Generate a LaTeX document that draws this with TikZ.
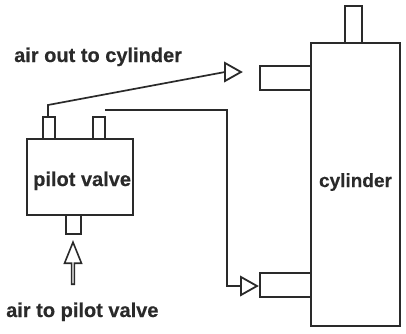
\documentclass[tikz,border=0pt]{standalone}
\usepackage{fontspec}
\setmainfont{Liberation Sans}[BoldFeatures={FakeBold=0.4}]
\usetikzlibrary{shapes.geometric,shapes.arrows}
\definecolor{ink}{HTML}{2A2A2A}
\tikzset{
  part/.style={draw=ink,line width=1.6pt,rectangle,inner sep=0pt,outer sep=0pt,anchor=north west},
  pipe/.style={draw=ink,line width=1.7pt,line join=miter},
  head/.style={draw=ink,line width=1.8pt,isosceles triangle,isosceles triangle stretches,inner sep=0pt,outer sep=0pt,minimum width=18pt,minimum height=16pt,anchor=lower side},
  label/.style={text=ink,inner sep=0pt,font=\bfseries\fontsize{20}{24}\selectfont,anchor=base west}
}
\begin{document}
\begin{tikzpicture}[x=1pt,y=-1pt]
\useasboundingbox (0,0) rectangle (406,333);
% cylinder
\node[part,minimum width=89pt,minimum height=283pt] (cyl) at (311,43) {};
\node[part,minimum width=17pt,minimum height=37pt] (rod) at (345,6) {};
\node[part,minimum width=51pt,minimum height=24pt] (portU) at (260,66) {};
\node[part,minimum width=51pt,minimum height=24pt] (portL) at (260,273) {};
% valve
\node[part,minimum width=106pt,minimum height=76pt] (valve) at (27,139) {};
\node[part,minimum width=12pt,minimum height=22pt] (out1) at (43,117) {};
\node[part,minimum width=12pt,minimum height=22pt] (out2) at (93,117) {};
\node[part,minimum width=15pt,minimum height=19pt] (inp) at (66,215) {};
% arrowheads
\node[head] (hU) at (225,72) {};
\node[head] (hL) at (241,286) {};
\node[draw=ink,line width=1.6pt,single arrow,shape border rotate=90,inner sep=0pt,outer sep=0pt,
  minimum width=17pt,minimum height=42pt,single arrow head extend=4pt,single arrow tip angle=44,anchor=center] (airin) at (73,265) {};
% connectors
\coordinate (bendU) at (48,105);
\coordinate (startL) at (105,110);
\coordinate (bendL) at (227,110);
\coordinate (bendL2) at (227,286);
\draw[pipe] (out1.north -| bendU) -- (bendU) -- (hU.lower side);
\draw[pipe] (startL) -- (bendL) -- (bendL2) -- (hL.lower side);
% labels
\node[label] (t1) at (14,62) {air out to cylinder};
\node[label] (t2) at (33,186) {pilot valve};
\node[label] (t3) at (6,317) {air to pilot valve};
\node[label,font=\bfseries\fontsize{19}{24}\selectfont,anchor=base] (t4) at (355.5,187) {cylinder};
\end{tikzpicture}
\end{document}
